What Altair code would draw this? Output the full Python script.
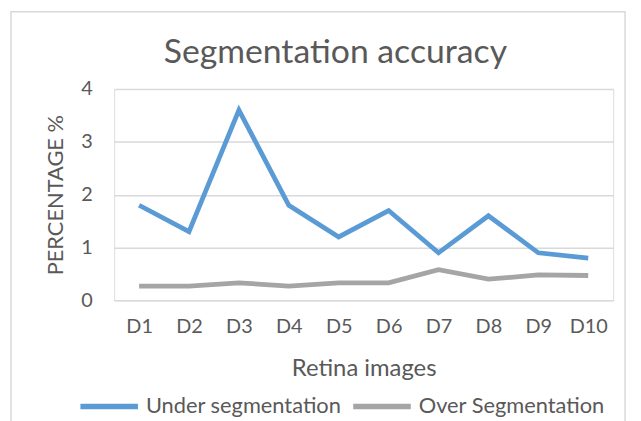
import altair as alt
import pandas as pd

categories = ["D1", "D2", "D3", "D4", "D5", "D6", "D7", "D8", "D9", "D10"]
under_seg = [1.8, 1.3, 3.6, 1.8, 1.2, 1.7, 0.9, 1.6, 0.9, 0.8]
over_seg = [0.27, 0.27, 0.33, 0.27, 0.33, 0.33, 0.58, 0.4, 0.48, 0.47]
series_names = ["Under segmentation", "Over Segmentation"]
chart_title = "Segmentation accuracy"

rows = []
for c, u, o in zip(categories, under_seg, over_seg):
    rows.append({"img": c, "series": series_names[0], "value": u})
    rows.append({"img": c, "series": series_names[1], "value": o})
df = pd.DataFrame(rows)

FONT = "Lato"
TXT = "#595959"

border = alt.Chart(pd.DataFrame({"a": [0]})).mark_rect(
    fill=None, stroke="#d9d9d9", strokeWidth=1.5
).encode(
    x=alt.value(-104), x2=alt.value(515), y=alt.value(-78), y2=alt.value(345)
)

title = alt.Chart(pd.DataFrame({"t": [chart_title]})).mark_text(
    fontSize=34, font=FONT, color=TXT, align="center", baseline="middle"
).encode(text="t:N", x=alt.value(223), y=alt.value(-36))

lines = alt.Chart(df).mark_line(strokeWidth=4.8).encode(
    x=alt.X("img:N", sort=categories,
            scale=alt.Scale(type="point", padding=0.5),
            axis=alt.Axis(title="Retina images", labelAngle=0, ticks=False, domain=False,
                          grid=False, labelPadding=16, titlePadding=21,
                          labelFontSize=20, titleFontSize=24, labelColor=TXT, titleColor=TXT,
                          labelFont=FONT, titleFont=FONT, titleFontWeight="normal")),
    y=alt.Y("value:Q", scale=alt.Scale(domain=[0, 4]),
            axis=alt.Axis(title="PERCENTAGE %", values=[0, 1, 2, 3, 4], ticks=False, domain=False,
                          gridColor="#d9d9d9", gridWidth=1.5, labelPadding=22, titlePadding=13,
                          labelFontSize=20, titleFontSize=22, labelColor=TXT, titleColor=TXT,
                          labelFont=FONT, titleFont=FONT, titleFontWeight="normal")),
    color=alt.Color("series:N", sort=series_names,
                    scale=alt.Scale(domain=series_names, range=["#5b9bd5", "#a5a5a5"]),
                    legend=alt.Legend(title=None, orient="none", direction="horizontal",
                                      legendX=-37, legendY=288, labelLimit=400,
                                      symbolType="stroke", symbolSize=3364, symbolStrokeWidth=5.5,
                                      labelFontSize=22, labelColor=TXT, labelFont=FONT,
                                      columnPadding=0, labelOffset=5)),
)

chart = alt.layer(border, title, lines).properties(
    width=503, height=213,
    autosize=alt.AutoSizeParams(type="none"),
    padding={"left": 107, "top": 80, "right": 20, "bottom": 125},
).configure_view(stroke=None).configure(background="white")

chart.save("out.html", embed_options={"renderer": "svg", "actions": False})
